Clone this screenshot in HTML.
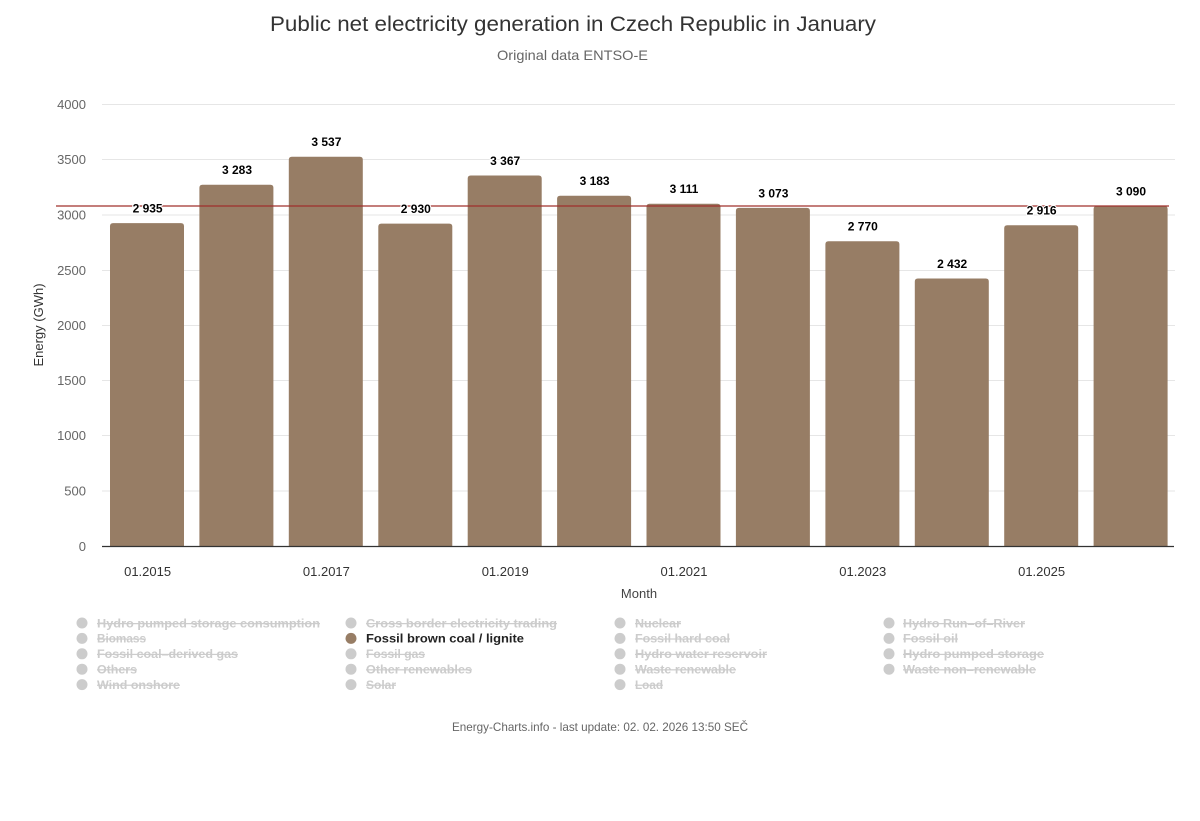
<!DOCTYPE html>
<html><head><meta charset="utf-8"><style>
html,body{margin:0;padding:0;background:#fff;}
svg{display:block;}
text{font-family:"Liberation Sans",sans-serif;}
</style></head><body>
<svg width="1200" height="821" viewBox="0 0 1200 821" xmlns="http://www.w3.org/2000/svg">
<rect width="1200" height="821" fill="#fff"/>
<text x="573" y="31" text-anchor="middle" font-size="21" fill="#333" textLength="606" lengthAdjust="spacingAndGlyphs">Public net electricity generation in Czech Republic in January</text>
<text x="572.5" y="60" text-anchor="middle" font-size="14" fill="#666" textLength="151" lengthAdjust="spacingAndGlyphs">Original data ENTSO-E</text>

<g stroke="#e6e6e6" stroke-width="1">
<line x1="102" y1="104.5" x2="1175" y2="104.5"/>
<line x1="102" y1="159.5" x2="1175" y2="159.5"/>
<line x1="102" y1="215" x2="1175" y2="215"/>
<line x1="102" y1="270.5" x2="1175" y2="270.5"/>
<line x1="102" y1="325.5" x2="1175" y2="325.5"/>
<line x1="102" y1="380.5" x2="1175" y2="380.5"/>
<line x1="102" y1="435.5" x2="1175" y2="435.5"/>
<line x1="102" y1="491" x2="1175" y2="491"/>
</g>
<g font-size="13" fill="#666" text-anchor="end">
<text x="86" y="109">4000</text>
<text x="86" y="164">3500</text>
<text x="86" y="219.5">3000</text>
<text x="86" y="275">2500</text>
<text x="86" y="330">2000</text>
<text x="86" y="385">1500</text>
<text x="86" y="440">1000</text>
<text x="86" y="495.5">500</text>
<text x="86" y="551">0</text>
</g>
<text transform="translate(43,325) rotate(-90)" text-anchor="middle" font-size="13" fill="#333">Energy (GWh)</text>

<g fill="#977d65">
<path d="M110,546.5 V226.1 Q110,223.1 113,223.1 H181 Q184,223.1 184,226.1 V546.5 Z"/>
<path d="M199.4,546.5 V187.7 Q199.4,184.7 202.4,184.7 H270.4 Q273.4,184.7 273.4,187.7 V546.5 Z"/>
<path d="M288.8,546.5 V159.7 Q288.8,156.7 291.8,156.7 H359.8 Q362.8,156.7 362.8,159.7 V546.5 Z"/>
<path d="M378.3,546.5 V226.6 Q378.3,223.6 381.3,223.6 H449.3 Q452.3,223.6 452.3,226.6 V546.5 Z"/>
<path d="M467.7,546.5 V178.5 Q467.7,175.5 470.7,175.5 H538.7 Q541.7,175.5 541.7,178.5 V546.5 Z"/>
<path d="M557.1,546.5 V198.7 Q557.1,195.7 560.1,195.7 H628.1 Q631.1,195.7 631.1,198.7 V546.5 Z"/>
<path d="M646.5,546.5 V206.7 Q646.5,203.7 649.5,203.7 H717.5 Q720.5,203.7 720.5,206.7 V546.5 Z"/>
<path d="M735.9,546.5 V210.9 Q735.9,207.9 738.9,207.9 H806.9 Q809.9,207.9 809.9,210.9 V546.5 Z"/>
<path d="M825.4,546.5 V244.2 Q825.4,241.2 828.4,241.2 H896.4 Q899.4,241.2 899.4,244.2 V546.5 Z"/>
<path d="M914.8,546.5 V281.5 Q914.8,278.5 917.8,278.5 H985.8 Q988.8,278.5 988.8,281.5 V546.5 Z"/>
<path d="M1004.2,546.5 V228.2 Q1004.2,225.2 1007.2,225.2 H1075.2 Q1078.2,225.2 1078.2,228.2 V546.5 Z"/>
<path d="M1093.6,546.5 V209 Q1093.6,206 1096.6,206 H1164.6 Q1167.6,206 1167.6,209 V546.5 Z"/>
</g>
<line x1="102" y1="546.5" x2="1174" y2="546.5" stroke="#333" stroke-width="1.2"/>
<line x1="56" y1="206" x2="1169" y2="206" stroke="#a0302c" stroke-width="1.2"/>

<g font-size="12" font-weight="bold" fill="#000" text-anchor="middle" stroke="#fff" stroke-width="2" paint-order="stroke" stroke-linejoin="round">
<text x="147.6" y="212.6">2 935</text>
<text x="237" y="174.2">3 283</text>
<text x="326.4" y="146.2">3 537</text>
<text x="415.8" y="213.1">2 930</text>
<text x="505.2" y="165">3 367</text>
<text x="594.6" y="185.2">3 183</text>
<text x="684" y="193.2">3 111</text>
<text x="773.4" y="197.4">3 073</text>
<text x="862.8" y="230.7">2 770</text>
<text x="952.2" y="268">2 432</text>
<text x="1041.6" y="214.7">2 916</text>
<text x="1131" y="195.5">3 090</text>
</g>

<g font-size="13" fill="#333" text-anchor="middle">
<text x="147.6" y="576">01.2015</text>
<text x="326.4" y="576">01.2017</text>
<text x="505.2" y="576">01.2019</text>
<text x="684" y="576">01.2021</text>
<text x="862.8" y="576">01.2023</text>
<text x="1041.6" y="576">01.2025</text>
</g>
<text x="639" y="598" text-anchor="middle" font-size="13" fill="#444">Month</text>

<g fill="#cccccc">
<circle cx="82" cy="623" r="5.5"/><circle cx="82" cy="638.4" r="5.5"/><circle cx="82" cy="653.8" r="5.5"/><circle cx="82" cy="669.2" r="5.5"/><circle cx="82" cy="684.6" r="5.5"/>
<circle cx="351" cy="623" r="5.5"/><circle cx="351" cy="653.8" r="5.5"/><circle cx="351" cy="669.2" r="5.5"/><circle cx="351" cy="684.6" r="5.5"/>
<circle cx="620" cy="623" r="5.5"/><circle cx="620" cy="638.4" r="5.5"/><circle cx="620" cy="653.8" r="5.5"/><circle cx="620" cy="669.2" r="5.5"/><circle cx="620" cy="684.6" r="5.5"/>
<circle cx="889" cy="623" r="5.5"/><circle cx="889" cy="638.4" r="5.5"/><circle cx="889" cy="653.8" r="5.5"/><circle cx="889" cy="669.2" r="5.5"/>
</g>
<circle cx="351" cy="638.4" r="5.5" fill="#977d65"/>

<g font-size="12" font-weight="bold" fill="#cccccc" text-decoration="line-through" lengthAdjust="spacingAndGlyphs">
<text x="97" y="627.3" textLength="223" lengthAdjust="spacingAndGlyphs">Hydro pumped storage consumption</text>
<text x="97" y="642.7" textLength="49" lengthAdjust="spacingAndGlyphs">Biomass</text>
<text x="97" y="658.1" textLength="141" lengthAdjust="spacingAndGlyphs">Fossil coal–derived gas</text>
<text x="97" y="673.5" textLength="40" lengthAdjust="spacingAndGlyphs">Others</text>
<text x="97" y="688.9" textLength="83" lengthAdjust="spacingAndGlyphs">Wind onshore</text>
<text x="366" y="627.3" textLength="191" lengthAdjust="spacingAndGlyphs">Cross border electricity trading</text>
<text x="366" y="658.1" textLength="59" lengthAdjust="spacingAndGlyphs">Fossil gas</text>
<text x="366" y="673.5" textLength="106" lengthAdjust="spacingAndGlyphs">Other renewables</text>
<text x="366" y="688.9" textLength="30" lengthAdjust="spacingAndGlyphs">Solar</text>
<text x="635" y="627.3" textLength="46" lengthAdjust="spacingAndGlyphs">Nuclear</text>
<text x="635" y="642.7" textLength="95" lengthAdjust="spacingAndGlyphs">Fossil hard coal</text>
<text x="635" y="658.1" textLength="132" lengthAdjust="spacingAndGlyphs">Hydro water reservoir</text>
<text x="635" y="673.5" textLength="101" lengthAdjust="spacingAndGlyphs">Waste renewable</text>
<text x="635" y="688.9" textLength="28" lengthAdjust="spacingAndGlyphs">Load</text>
<text x="903" y="627.3" textLength="122" lengthAdjust="spacingAndGlyphs">Hydro Run–of–River</text>
<text x="903" y="642.7" textLength="55" lengthAdjust="spacingAndGlyphs">Fossil oil</text>
<text x="903" y="658.1" textLength="141" lengthAdjust="spacingAndGlyphs">Hydro pumped storage</text>
<text x="903" y="673.5" textLength="133" lengthAdjust="spacingAndGlyphs">Waste non–renewable</text>
</g>
<text x="366" y="642.7" font-size="12" font-weight="bold" fill="#222" textLength="158" lengthAdjust="spacingAndGlyphs">Fossil brown coal / lignite</text>

<text x="600" y="731" text-anchor="middle" font-size="12" fill="#666" textLength="296" lengthAdjust="spacingAndGlyphs">Energy-Charts.info - last update: 02. 02. 2026 13:50 SEČ</text>
</svg>
</body></html>
